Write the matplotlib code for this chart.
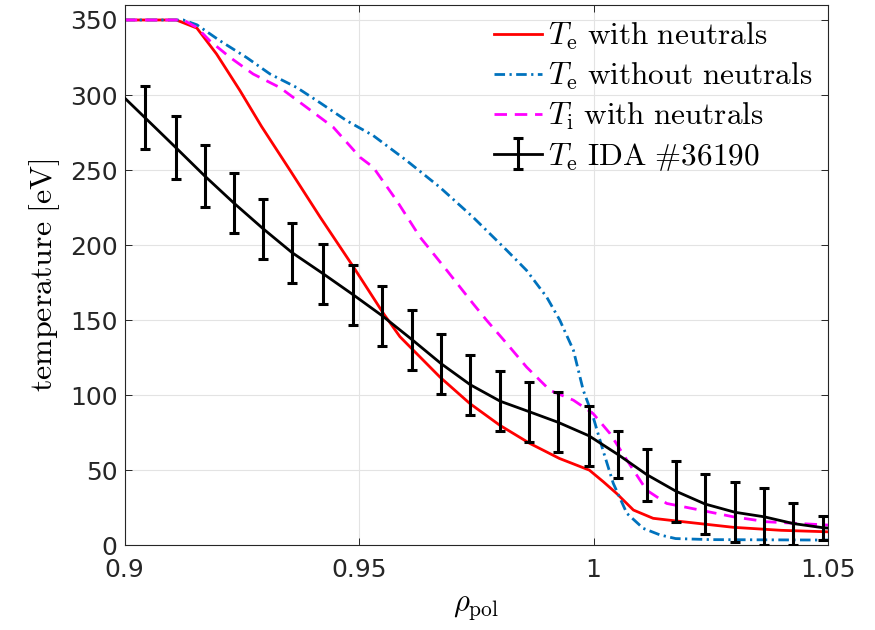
import matplotlib
matplotlib.use("Agg")
import matplotlib.pyplot as plt

# --- profile data ---
# Te with neutrals
rho_te_n = [0.900, 0.911, 0.9154, 0.9196, 0.9246, 0.9292, 0.9353, 0.9417,
            0.9488, 0.9552, 0.9587, 0.9672, 0.9736, 0.9800, 0.9864, 0.9927, 0.9991,
            1.0021, 1.0049, 1.0085, 1.0127, 1.0177, 1.0298, 1.0400, 1.0500]
te_n = [350, 350, 344.6, 327.3, 302.9, 279, 249.7, 218.6,
        185.4, 154.4, 139, 112.2, 94.5, 80, 67.9, 57.9, 50.1,
        42.3, 34.6, 23.5, 18, 16.2, 12, 10, 9]

# Te without neutrals
rho_te_nn = [0.900, 0.9125, 0.9154, 0.9203, 0.926, 0.931, 0.9367, 0.9416, 0.9473,
             0.953, 0.9601, 0.9672, 0.9743, 0.9815, 0.9857, 0.9900, 0.9928, 0.9957,
             0.9978, 0.9999, 1.0020, 1.0042, 1.0071, 1.0106, 1.0142, 1.0175, 1.025, 1.050]
te_nn = [350, 350, 346.8, 336.2, 325, 314, 305, 295, 283,
         273, 256.4, 238.6, 218.6, 196.5, 183.2, 165.4, 150, 130,
         103.3, 85.6, 63.4, 41.3, 21.3, 11.3, 6.9, 4.5, 3.8, 3.5]

# Ti with neutrals
rho_ti_n = [0.900, 0.9125, 0.9154, 0.9182, 0.9225, 0.9274, 0.9331, 0.9388, 0.9445,
            0.9502, 0.953, 0.958, 0.963, 0.9687, 0.9743, 0.9772, 0.9815, 0.9857,
            0.9907, 0.9957, 0.9999, 1.0035, 1.0071, 1.0113, 1.0156, 1.0227, 1.0298,
            1.0369, 1.0500]
ti_n = [350, 350, 345, 336, 325, 314, 305, 291.8, 278.5,
        258.5, 251.9, 229.7, 205.3, 183.2, 161, 149.9, 134.4, 118.8,
        103.3, 96.7, 87.8, 74.5, 56.8, 36.8, 27.9, 23.5, 19,
        15.7, 13.5]

# IDA measurement: fit curve and error bars
rho_ida_fit = [0.900, 0.9043, 0.9109, 0.9171, 0.9233, 0.9295, 0.9357, 0.9423, 0.9487,
               0.9549, 0.9613, 0.9675, 0.9737, 0.9801, 0.9863, 0.9924, 0.9990, 1.0052,
               1.0114, 1.0176, 1.0238, 1.0302, 1.0364, 1.0426, 1.0490, 1.0500]
te_ida_fit = [298, 285, 265, 246, 228, 211, 195, 181, 167,
              153, 137, 121, 107, 96, 89, 82, 73, 60.5,
              47, 36, 27.5, 22, 19, 14.5, 11.7, 11.5]
rho_ida = rho_ida_fit[1:-1]
te_ida = te_ida_fit[1:-1]
te_ida_err = [21, 21, 20.5, 20, 20, 20, 20, 20, 20, 20, 20, 20, 20, 20, 20, 20,
              15.5, 17.5, 20.5, 20, 20, 19, 14, 8]

plt.rcParams['font.family'] = 'DejaVu Sans'
plt.rcParams['mathtext.fontset'] = 'cm'

fig = plt.figure(figsize=(8.75, 6.3), dpi=100)
ax = fig.add_axes([0.1425, 0.1344, 0.8038, 0.8577])

l_red, = ax.plot(rho_te_n, te_n, color='#ff0000', lw=2)
l_blue, = ax.plot(rho_te_nn, te_nn, color='#0072bd', lw=2)
l_blue.set_dashes((3.8, 1.6, 0.8, 1.6))
l_mag, = ax.plot(rho_ti_n, ti_n, color='#ff00ff', lw=2)
l_mag.set_dashes((4.5, 2.8))

l_fit, = ax.plot(rho_ida_fit, te_ida_fit, color='black', lw=2, zorder=4)
eb = ax.errorbar(rho_ida, te_ida, yerr=te_ida_err, fmt='none', ecolor='black',
                 elinewidth=2.2, capsize=3.6, capthick=2.2, zorder=5)

ax.set_xlim(0.9, 1.05)
ax.set_ylim(0, 360)
ax.set_xticks([0.9, 0.95, 1.0, 1.05])
ax.set_xticklabels(['0.9', '0.95', '1', '1.05'])
ax.set_yticks(range(0, 351, 50))

ax.grid(True, color='#e3e3e3', lw=0.8)
ax.set_axisbelow(True)
ax.tick_params(direction='in', length=5, width=0.7, colors='#262626',
               labelsize=18, top=True, right=True)
ax.tick_params(axis='x', pad=9)
ax.tick_params(axis='y', pad=5)
for s in ax.spines.values():
    s.set_color('#262626')
    s.set_linewidth(0.8)

ax.set_xlabel(r'$\rho_\mathrm{pol}$', fontsize=22, labelpad=8)
ax.set_ylabel(r'$\mathrm{temperature\ [eV]}$', fontsize=23, labelpad=6)

labels = [r'$T_\mathrm{e}\ \mathrm{with\ neutrals}$',
          r'$T_\mathrm{e}\ \mathrm{without\ neutrals}$',
          r'$T_\mathrm{i}\ \mathrm{with\ neutrals}$',
          r'$T_\mathrm{e}\ \mathrm{IDA\ \#36190}$']
ax.legend([l_red, l_blue, l_mag, (l_fit, eb)], labels, loc='upper right',
          frameon=False, fontsize=22.5, handlelength=1.55, handletextpad=0.18,
          labelspacing=0.28, borderpad=0.4, borderaxespad=0.1)

fig.savefig('out.png', dpi=100)
